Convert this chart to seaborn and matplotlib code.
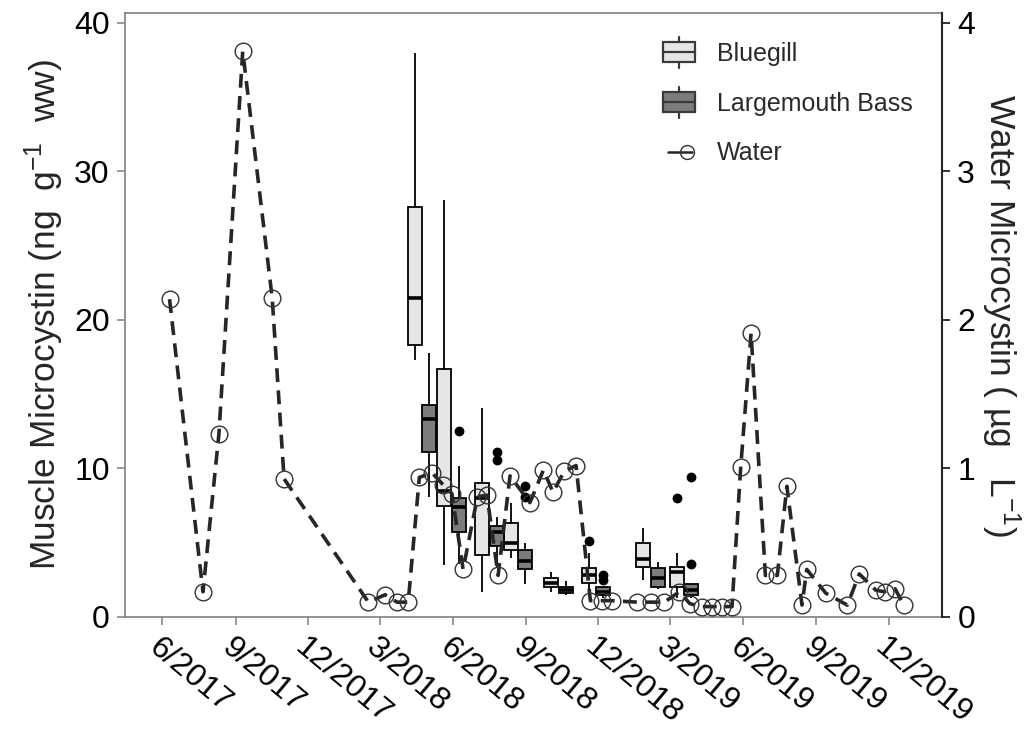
import numpy as np
import pandas as pd
import matplotlib
matplotlib.use("Agg")
import matplotlib.pyplot as plt
import matplotlib.dates as mdates
import seaborn as sns
from matplotlib.patches import Rectangle
from matplotlib.lines import Line2D
from matplotlib.legend_handler import HandlerBase

# ---------------- data ----------------
# Bluegill muscle microcystin boxes: whisker low, Q1, median, Q3, whisker high
bg_dates = ["2018-04-15", "2018-05-21", "2018-07-08", "2018-08-13",
            "2018-10-02", "2018-11-19", "2019-01-26", "2019-03-10"]
bg_low  = [17.3, 3.5, 1.7, 4.0, 1.7, 1.7, 2.5, 1.3]
bg_q1   = [18.3, 7.5, 4.2, 4.5, 2.0, 2.3, 3.4, 2.0]
bg_med  = [21.5, 8.5, 8.0, 5.0, 2.3, 2.8, 3.9, 3.0]
bg_q3   = [27.6, 16.7, 9.0, 6.3, 2.6, 3.3, 5.0, 3.4]
bg_high = [38.0, 28.1, 14.1, 7.7, 3.0, 4.3, 6.0, 4.3]
bg_out_dates = ["2018-11-19", "2019-03-10"]
bg_out_vals  = [5.1, 8.0]

# Largemouth Bass muscle microcystin boxes
lmb_dates = ["2018-05-02", "2018-06-09", "2018-07-27", "2018-08-31",
             "2018-10-21", "2018-12-07", "2019-02-14", "2019-03-27"]
lmb_low  = [8.1, 3.6, 3.4, 2.2, 1.5, 1.3, 1.9, 1.3]
lmb_q1   = [11.1, 5.7, 4.8, 3.2, 1.6, 1.5, 2.0, 1.5]
lmb_med  = [13.3, 7.4, 5.7, 3.8, 1.8, 1.7, 2.6, 1.8]
lmb_q3   = [14.3, 8.0, 6.1, 4.5, 2.0, 2.0, 3.3, 2.2]
lmb_high = [17.8, 10.2, 6.7, 5.0, 2.4, 2.0, 3.7, 2.2]
lmb_out_dates = ["2018-06-09", "2018-07-27", "2018-07-27", "2018-08-31",
                 "2018-08-31", "2018-12-07", "2018-12-07", "2019-03-27", "2019-03-27"]
lmb_out_vals  = [12.5, 11.1, 10.6, 8.8, 8.1, 2.8, 2.5, 9.4, 3.6]

# Water microcystin (ug/L)
water_dates = ["2017-06-10", "2017-07-22", "2017-08-11", "2017-09-10", "2017-10-17",
               "2017-11-01", "2018-02-15", "2018-03-08", "2018-03-23", "2018-04-06",
               "2018-04-20", "2018-05-06", "2018-05-20", "2018-05-31", "2018-06-14",
               "2018-07-02", "2018-07-14", "2018-07-28", "2018-08-12", "2018-09-06",
               "2018-09-23", "2018-10-05", "2018-10-19", "2018-11-03", "2018-11-21",
               "2018-12-05", "2018-12-18", "2019-01-19", "2019-02-05", "2019-02-22",
               "2019-03-13", "2019-03-26", "2019-04-10", "2019-04-23", "2019-05-06",
               "2019-05-18", "2019-05-29", "2019-06-11", "2019-06-29", "2019-07-14",
               "2019-07-26", "2019-08-14", "2019-08-20", "2019-09-13", "2019-10-10",
               "2019-10-25", "2019-11-15", "2019-11-26", "2019-12-09", "2019-12-20"]
water_vals = [2.14, 0.17, 1.23, 3.81, 2.15,
              0.93, 0.10, 0.15, 0.10, 0.10,
              0.94, 0.97, 0.89, 0.83, 0.32,
              0.81, 0.82, 0.28, 0.95, 0.77,
              0.99, 0.84, 0.98, 1.02, 0.11,
              0.11, 0.11, 0.10, 0.10, 0.10,
              0.17, 0.09, 0.07, 0.07, 0.07,
              0.07, 1.01, 1.91, 0.28, 0.28,
              0.88, 0.08, 0.32, 0.16, 0.08,
              0.29, 0.18, 0.17, 0.19, 0.08]

tick_dates = ["2017-06-01", "2017-09-01", "2017-12-01", "2018-03-01", "2018-06-01",
              "2018-09-01", "2018-12-01", "2019-03-01", "2019-06-01", "2019-09-01",
              "2019-12-01"]
tick_labels = ["6/2017", "9/2017", "12/2017", "3/2018", "6/2018", "9/2018",
               "12/2018", "3/2019", "6/2019", "9/2019", "12/2019"]

# ---------------- styling ----------------
sns.set_theme(style="ticks")
plt.rcParams["font.family"] = ["Liberation Sans", "DejaVu Sans"]
plt.rcParams["mathtext.fontset"] = "custom"
plt.rcParams["mathtext.rm"] = "Liberation Sans"
plt.rcParams["mathtext.it"] = "Liberation Sans:italic"
plt.rcParams["lines.scale_dashes"] = False

BG_COLOR = "#E6E6E6"
LMB_COLOR = "#7C7C7C"
BOX_DAYS = 17.5


def to_num(dates):
    return mdates.date2num(pd.to_datetime(dates))


def box_frame(dates, *stats):
    t = np.repeat(to_num(dates), 5)
    v = np.column_stack(stats).ravel()
    return pd.DataFrame({"t": t, "v": v})


fig = plt.figure(figsize=(10.32, 7.40), dpi=100)
ax = fig.add_axes([125 / 1032, 1 - 617 / 740, (942 - 125) / 1032, (617 - 13) / 740])

box_kw = dict(x="t", y="v", native_scale=True, orient="x", whis=(0, 100),
              showcaps=False, showfliers=False, saturation=1, linecolor="black",
              linewidth=1.3, medianprops=dict(linewidth=2.6, color="black"), ax=ax)

for dates, stats, col in [(bg_dates, (bg_low, bg_q1, bg_med, bg_q3, bg_high), BG_COLOR),
                          (lmb_dates, (lmb_low, lmb_q1, lmb_med, lmb_q3, lmb_high), LMB_COLOR)]:
    df = box_frame(dates, *stats)
    u = np.unique(df["t"])
    width = BOX_DAYS / np.min(np.diff(u))
    sns.boxplot(data=df, color=col, width=width, **box_kw)

sns.scatterplot(x=np.concatenate([to_num(bg_out_dates), to_num(lmb_out_dates)]),
                y=np.concatenate([bg_out_vals, lmb_out_vals]),
                color="black", s=50, linewidth=0, ax=ax, zorder=4)

ax2 = ax.twinx()
sns.lineplot(x=to_num(water_dates), y=water_vals, ax=ax2, color="#262626",
             linewidth=2.6, marker="o", markersize=12, markerfacecolor="none",
             markeredgecolor="#333333", markeredgewidth=1.0)
ax2.lines[0].set_dashes([10, 6])

# ---------------- axes ----------------
ax.set_xlim(to_num(["2017-04-15"])[0], to_num(["2020-02-06"])[0])
ax.set_ylim(0, 40.67)
ax2.set_ylim(0, 4.067)
ax.set_yticks([0, 10, 20, 30, 40])
ax2.set_yticks([0, 1, 2, 3, 4])
ax.set_xticks(to_num(tick_dates))
ax.set_xticklabels(tick_labels, rotation=-40, ha="left", va="top",
                   rotation_mode="anchor", fontsize=23)

ax.tick_params(axis="both", direction="out", length=6, width=1.1, colors="#808080",
               labelcolor="black", pad=5)
ax.tick_params(axis="y", labelsize=23)
ax.tick_params(axis="x", labelsize=23)
ax2.tick_params(axis="y", direction="out", length=6, width=1.3, colors="#222222",
                labelcolor="black", labelsize=23, pad=5)

for s in ["left", "bottom", "top"]:
    ax.spines[s].set_color("#808080")
    ax.spines[s].set_linewidth(1.2)
for s in ["left", "bottom", "top"]:
    ax2.spines[s].set_visible(False)
ax2.spines["right"].set_color("#222222")
ax2.spines["right"].set_linewidth(1.5)
ax.spines["right"].set_visible(False)

ax.set_xlabel("")
ax2.set_xlabel("")
ax.set_ylabel("Muscle Microcystin (ng  g$^{-1}$  ww)", fontsize=25.5, labelpad=6)
ax2.set_ylabel("Water Microcystin ( \u00b5g   L$^{-1}$)", fontsize=25.5, rotation=270,
               labelpad=34)


# ---------------- legend ----------------
class BoxGlyph:
    def __init__(self, fc):
        self.fc = fc


class BoxHandler(HandlerBase):
    def create_artists(self, legend, h, xd, yd, w, hh, fs, trans):
        x0, y0 = -xd, -yd
        rect = Rectangle((x0, y0 + 0.18 * hh), w, 0.64 * hh, facecolor=h.fc,
                         edgecolor="#3a3a3a", linewidth=1.6, transform=trans)
        med = Line2D([x0, x0 + w], [y0 + 0.5 * hh] * 2, color="#3a3a3a", lw=1.6,
                     transform=trans)
        wl = Line2D([x0 + w / 2] * 2, [y0, y0 + 0.18 * hh], color="#3a3a3a", lw=1.6,
                    transform=trans)
        wh = Line2D([x0 + w / 2] * 2, [y0 + 0.82 * hh, y0 + hh], color="#3a3a3a", lw=1.6,
                    transform=trans)
        return [rect, med, wl, wh]


class WaterGlyph:
    pass


class WaterHandler(HandlerBase):
    def create_artists(self, legend, h, xd, yd, w, hh, fs, trans):
        x0, y0 = -xd, -yd
        ym = y0 + 0.5 * hh
        ln = Line2D([x0 + 0.15 * w, x0 + 0.9 * w], [ym, ym], color="#262626", lw=1.8,
                    transform=trans)
        mk = Line2D([x0 + 0.75 * w], [ym], marker="o", markersize=10,
                    markerfacecolor="none", markeredgecolor="#333333",
                    markeredgewidth=1.0, linestyle="none", transform=trans)
        return [ln, mk]


handles = [BoxGlyph(BG_COLOR), BoxGlyph(LMB_COLOR), WaterGlyph()]
labels = ["Bluegill", "Largemouth Bass", "Water"]
leg = fig.legend(handles, labels,
                 handler_map={BoxGlyph: BoxHandler(), WaterGlyph: WaterHandler()},
                 loc="upper left", bbox_to_anchor=(663 / 1032, 1 - 37 / 740),
                 bbox_transform=fig.transFigure, frameon=False, fontsize=18,
                 handlelength=1.28, handleheight=1.5, labelspacing=0.78,
                 handletextpad=0.88, borderpad=0, borderaxespad=0)
for t in leg.get_texts():
    t.set_color("#2a2a2a")

fig.savefig("out.png", dpi=100)
